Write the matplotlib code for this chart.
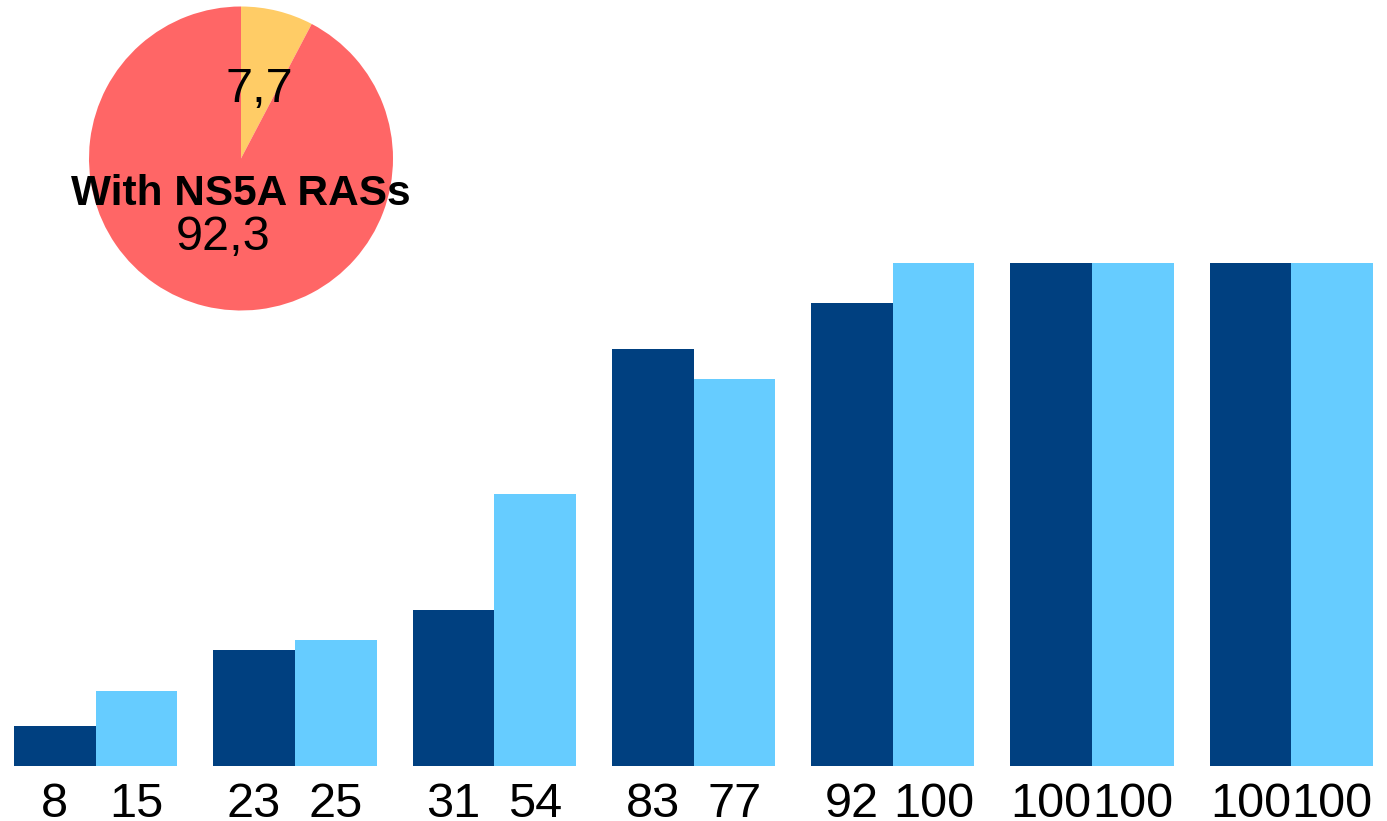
import matplotlib
matplotlib.use("Agg")
import matplotlib.pyplot as plt
import numpy as np

plt.rcParams['font.family'] = ['Liberation Sans', 'DejaVu Sans']

# SVR rates per group (dark = first series, light = second series)
groups = ['G1', 'G2', 'G3', 'G4', 'G5', 'G6', 'G7']
series_dark = [8, 23, 31, 83, 92, 100, 100]
series_light = [15, 25, 54, 77, 100, 100, 100]

# pie: share with / without NS5A RASs
pie_values = [7.7, 92.3]
pie_labels = ['7,7', '92,3']
pie_title = 'With NS5A RASs'

dark = '#004080'
light = '#66CCFF'
pie_colors = ['#FFCC66', '#FF6666']

fig = plt.figure(figsize=(13.87, 8.21), dpi=100)

# bar chart
ax = fig.add_axes([14 / 1387, 1 - 766 / 821, 1359 / 1387, 503 / 821])
x = np.arange(len(groups))
w = 0.41
ax.bar(x - w / 2, series_dark, width=w, color=dark)
ax.bar(x + w / 2, series_light, width=w, color=light)
ax.set_xlim(-w, len(groups) - 1 + w)
ax.set_ylim(0, 100)
ax.axis('off')

for xi, v in zip(x - w / 2, series_dark):
    ax.text(xi, -10.1, str(v), ha='center', va='baseline', fontsize=35, clip_on=False)
for xi, v in zip(x + w / 2, series_light):
    ax.text(xi, -10.1, str(v), ha='center', va='baseline', fontsize=35, clip_on=False)

# pie inset
pax = fig.add_axes([89 / 1387, 1 - 310.5 / 821, 304 / 1387, 304 / 821])
pax.pie(pie_values, colors=pie_colors, startangle=90, counterclock=False, radius=1)
pax.set_xlim(-1, 1)
pax.set_ylim(-1, 1)
pax.axis('off')
pax.text(0.118, 0.37, pie_labels[0], ha='center', va='baseline', fontsize=35)
pax.text(0.0, -0.306, pie_title, ha='center', va='baseline', fontsize=30.5, fontweight='bold')
pax.text(-0.118, -0.60, pie_labels[1], ha='center', va='baseline', fontsize=35)

fig.savefig('out.png', dpi=100)
